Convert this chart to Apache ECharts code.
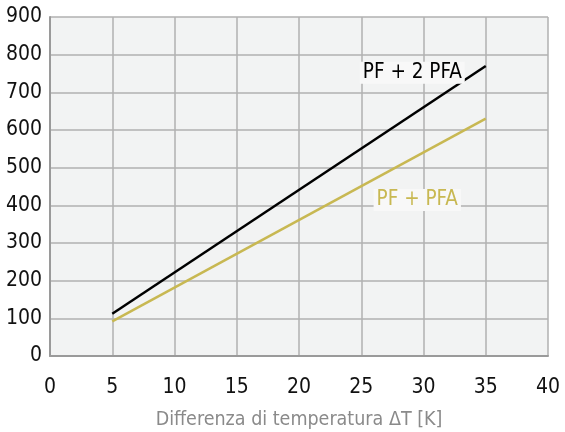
<!DOCTYPE html>
<html><head><meta charset="utf-8">
<script src="https://cdn.jsdelivr.net/npm/echarts@6/dist/echarts.min.js"></script>
<style>html,body{margin:0;padding:0;background:#fff}#c{width:565px;height:432px}</style>
</head><body><div id="c"></div>
<script>
const xValues = [5, 35];
const seriesPF2PFA = [112, 770];
const seriesPFPFA = [92, 630];
const labelPF2PFA = [29.1, 752];
const labelPFPFA = [29.5, 414];
const FONT = '"DejaVu Sans Condensed",sans-serif';

const chart = echarts.init(document.getElementById('c'));
function pairs(xs, ys){ return xs.map((x,i)=>[x, ys[i]]); }
function lblItem(name, pos, color){
  return { coord: pos, value: name,
      label:{ show:true, position:'inside', formatter:name, color:color, fontFamily:FONT, fontSize:20.5,
        backgroundColor:'#f8f8f8', padding:[1,3,0,3] } };
}
chart.setOption({
  animation:false,
  grid:{ left:50, right:17, top:17, bottom:76, show:true, backgroundColor:'#f2f3f3', borderWidth:0,
    outerBoundsMode:'none', containLabel:false },
  xAxis:{ type:'value', min:0, max:40, interval:5,
    name:'Differenza di temperatura ΔT [K]', nameLocation:'middle', nameGap:54,
    nameTextStyle:{ color:'#8a8a8a', fontSize:19.5, fontFamily:FONT },
    axisLine:{ show:true, lineStyle:{ color:'#9a9a9a', width:2 } },
    axisTick:{ show:false },
    axisLabel:{ color:'#111', fontSize:21, fontFamily:FONT, margin:21 },
    splitLine:{ show:true, lineStyle:{ color:'#b0b0b0', width:1.5 } } },
  yAxis:{ type:'value', min:0, max:900, interval:100,
    axisLine:{ show:true, lineStyle:{ color:'#9a9a9a', width:2 } },
    axisTick:{ show:false },
    axisLabel:{ color:'#111', fontSize:21, fontFamily:FONT, margin:8 },
    splitLine:{ show:true, lineStyle:{ color:'#b0b0b0', width:1.5 } } },
  series:[
    { type:'line', z:2, data:pairs(xValues, seriesPFPFA), symbol:'none',
      lineStyle:{ color:'#c8b852', width:2.5 },
      markPoint:{ symbol:'circle', symbolSize:0, silent:true,
        data:[ lblItem('PF + PFA', labelPFPFA, '#c8b852'), lblItem('PF + 2 PFA', labelPF2PFA, '#000') ] } },
    { type:'line', z:3, data:pairs(xValues, seriesPF2PFA), symbol:'none',
      lineStyle:{ color:'#000', width:2.5 } }
  ]
});
</script></body></html>
